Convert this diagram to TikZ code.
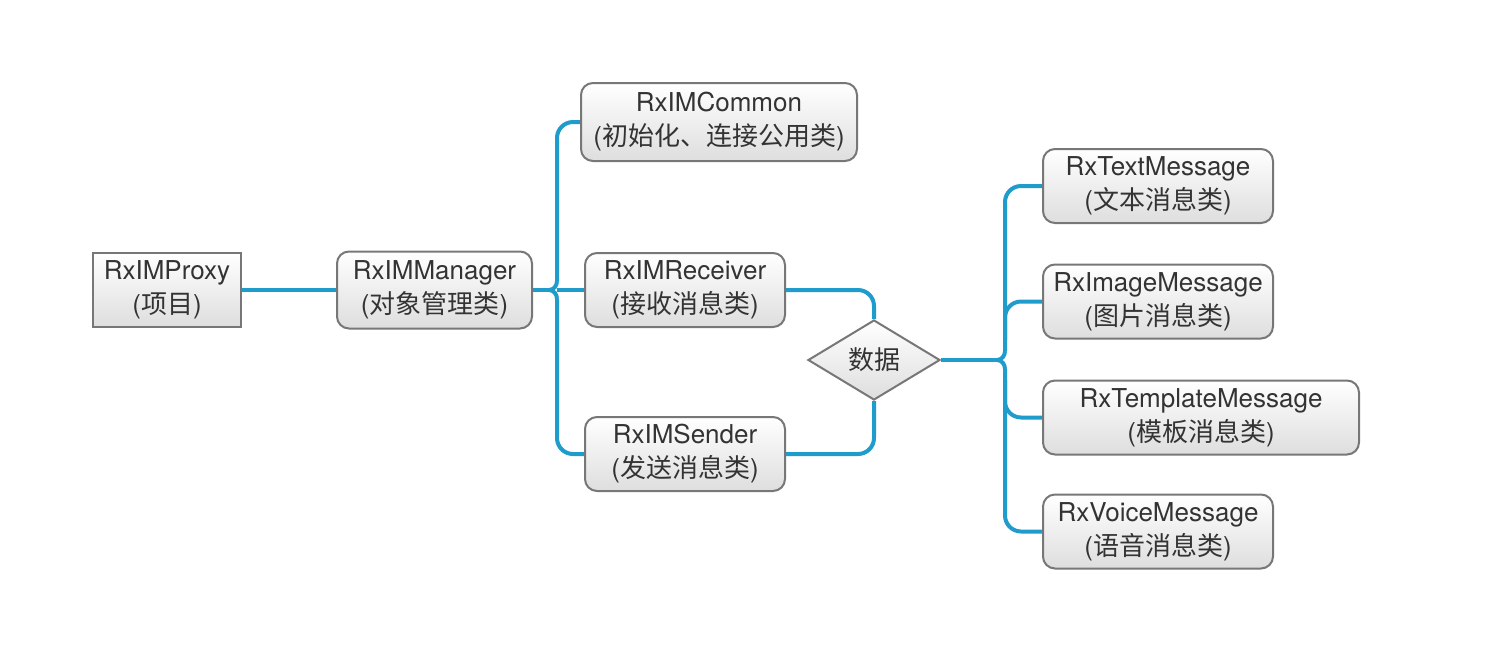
\documentclass[tikz,border=0pt]{standalone}
\usepackage{fontspec}
\setmainfont{TeX Gyre Heros}
\newfontfamily\cjk{Noto Sans CJK SC}
\usetikzlibrary{shapes.geometric,backgrounds}
\definecolor{linkblue}{HTML}{1F9BCC}
\definecolor{boxgray}{HTML}{777777}
\definecolor{textgray}{HTML}{333333}

\begin{document}
\begin{tikzpicture}[x=0.5pt,y=-0.5pt,
    classbox/.style={
      % The shape:
      rectangle,rounded corners=6pt,minimum height=37pt,inner sep=0pt,
      % The rest
      line width=1pt,draw=boxgray,
      top color=white,bottom color=black!13,
      text=textgray,align=center,font=\fontsize{13}{17}\selectfont},
    decision/.style={
      diamond,minimum width=66pt,minimum height=40pt,inner sep=0pt,
      line width=1pt,draw=boxgray,
      top color=white,bottom color=black!13,
      text=textgray,font=\fontsize{13}{17}\selectfont},
    link/.style={line width=2pt,draw=linkblue}]
  \useasboundingbox (0,0) rectangle (1510,660);

  % left part
  \node [classbox,rounded corners=0pt,minimum width=74pt] (proxy) at (167,290)
    {RxIMProxy\\({\cjk 项目})};
  \node [classbox,minimum width=97.5pt,minimum height=38.5pt] (manager) at (434.5,290)
    {RxIMManager\\({\cjk 对象管理类})};

  % middle part
  \node [classbox,minimum width=138pt,minimum height=39pt] (common) at (719,122)
    {RxIMCommon\\({\cjk 初始化、连接公用类})};
  \node [classbox,minimum width=100pt] (receiver) at (685,290)
    {RxIMReceiver\\({\cjk 接收消息类})};
  \node [classbox,minimum width=100pt] (sender) at (685,454)
    {RxIMSender\\({\cjk 发送消息类})};
  \node [decision] (data) at (874,360) {\cjk 数据};

  % message classes
  \node [classbox,minimum width=115pt] (textmsg) at (1158,186)
    {RxTextMessage\\({\cjk 文本消息类})};
  \node [classbox,minimum width=115pt] (imagemsg) at (1158,301.5)
    {RxImageMessage\\({\cjk 图片消息类})};
  \node [classbox,minimum width=158pt] (templatemsg) at (1201,417.5)
    {RxTemplateMessage\\({\cjk 模板消息类})};
  \node [classbox,minimum width=115pt] (voicemsg) at (1158,531.5)
    {RxVoiceMessage\\({\cjk 语音消息类})};

  \coordinate (mgrtip) at (549,290);
  \coordinate (datatip) at (997,360);

  % connectors
  \begin{scope}[on background layer]
  \draw [link] (proxy.east) -- (manager.west);
  \draw [link] (manager.east) -- (mgrtip);
  \draw [link,rounded corners=8pt] (common.west) -| (557,281);
  \draw [link] (557,281) to[out=-90,in=0] (mgrtip) to[out=0,in=90] (557,299);
  \draw [link,rounded corners=8pt] (557,299) |- (sender.west);
  \draw [link] (557,290) -- (receiver.west);
  \draw [link,rounded corners=8pt] (receiver.east) -| (data.north);
  \draw [link,rounded corners=8pt] (sender.east) -| (data.south);

  \draw [link] (data.east) -- (datatip);
  \draw [link,rounded corners=8pt] (textmsg.west) -| (1005,351);
  \draw [link] (1005,351) to[out=-90,in=0] (datatip) to[out=0,in=90] (1005,369);
  \draw [link,rounded corners=8pt] (1005,369) |- (voicemsg.west);
  \draw [link,rounded corners=8pt] (imagemsg.west) -| (1005,340);
  \draw [link,rounded corners=8pt] (templatemsg.west) -| (1005,380);
  \end{scope}
\end{tikzpicture}
\end{document}
